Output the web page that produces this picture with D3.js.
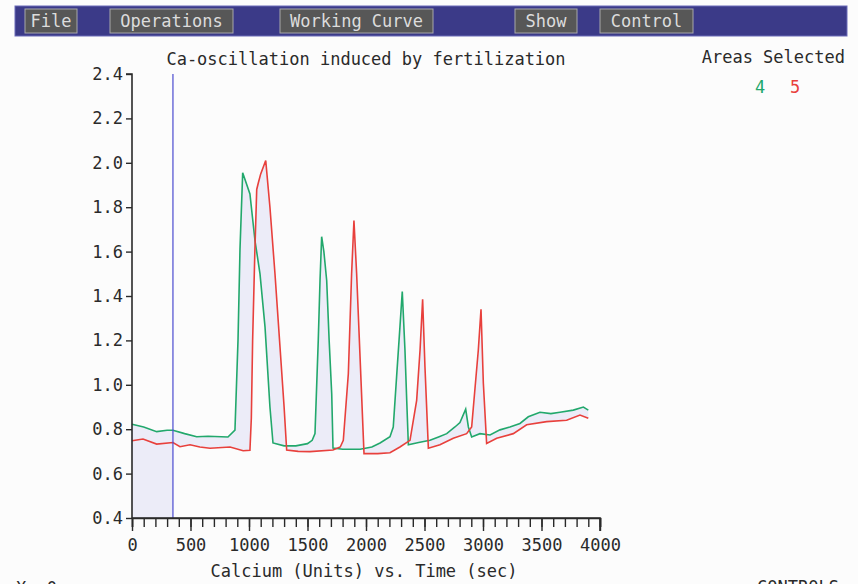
<!DOCTYPE html>
<html>
<head>
<meta charset="utf-8">
<script src="https://cdn.jsdelivr.net/npm/d3@7"></script>
<style>
  body { margin: 0; background: #fcfcfc; }
  svg { display: block; }
  text { font-family: "DejaVu Sans Mono", "Liberation Mono", monospace; }
</style>
</head>
<body>
<script>
// menu
var menuItems = ['File', 'Operations', 'Working Curve', 'Show', 'Control'];
var menuX = [25, 110, 280, 515, 600];
var menuW = [52, 123, 153, 62, 93];

// area 4 (green) - time, value
var greenTimes = [0, 100, 211, 300, 350, 450, 553, 650, 820, 880, 906, 923, 946, 1008, 1051, 1094, 1137, 1179, 1205,
  1300, 1400, 1500, 1540, 1564, 1592, 1607, 1621, 1640, 1664, 1685, 1707, 1718, 1800, 1950, 2050, 2120, 2205, 2233,
  2262, 2290, 2310, 2333, 2348, 2362, 2450, 2547, 2620, 2690, 2760, 2803, 2852, 2875, 2903, 2974, 3060, 3145, 3230,
  3316, 3387, 3487, 3580, 3658, 3772, 3858, 3900];
var greenValues = [0.822, 0.81, 0.789, 0.795, 0.795, 0.78, 0.766, 0.768, 0.765, 0.796, 1.2, 1.61, 1.955, 1.86, 1.65,
  1.50, 1.26, 0.90, 0.738, 0.725, 0.725, 0.735, 0.75, 0.78, 1.20, 1.47, 1.667, 1.6, 1.47, 1.2, 0.96, 0.715, 0.71,
  0.71, 0.72, 0.738, 0.766, 0.81, 1.04, 1.26, 1.42, 1.157, 0.93, 0.73, 0.74, 0.75, 0.765, 0.78, 0.81, 0.83, 0.89,
  0.81, 0.765, 0.78, 0.774, 0.797, 0.81, 0.826, 0.856, 0.876, 0.87, 0.876, 0.886, 0.90, 0.886];

// area 5 (red)
var redTimes = [0, 94, 211, 350, 410, 496, 580, 667, 838, 950, 1008, 1020, 1031, 1050, 1066, 1080, 1100, 1143, 1179,
  1222, 1265, 1300, 1322, 1420, 1521, 1718, 1780, 1806, 1849, 1877, 1897, 1920, 1949, 1983, 2100, 2205, 2290, 2376,
  2433, 2462, 2484, 2504, 2533, 2632, 2746, 2860, 2903, 2960, 2983, 3003, 3031, 3117, 3259, 3373, 3544, 3715, 3829, 3900];
var redValues = [0.748, 0.756, 0.733, 0.74, 0.721, 0.73, 0.72, 0.714, 0.72, 0.703, 0.705, 0.85, 1.20, 1.6, 1.88, 1.91,
  1.95, 2.01, 1.80, 1.50, 1.17, 0.9, 0.706, 0.70, 0.699, 0.706, 0.72, 0.75, 1.05, 1.50, 1.74, 1.50, 1.127, 0.69,
  0.69, 0.694, 0.72, 0.75, 0.93, 1.157, 1.385, 1.08, 0.714, 0.73, 0.759, 0.78, 0.81, 1.157, 1.34, 1.007, 0.736,
  0.759, 0.78, 0.82, 0.834, 0.84, 0.864, 0.849];

var markerTime = 350;
var yTicks = [0.4, 0.6, 0.8, 1.0, 1.2, 1.4, 1.6, 1.8, 2.0, 2.2, 2.4];
var xMajor = [0, 500, 1000, 1500, 2000, 2500, 3000, 3500, 4000];

var green = '#22a86c', red = '#e8403c', blue = '#4a4ad0', fillCol = '#ececf8', ink = '#2a2a2a';

var svg = d3.select('body').append('svg')
  .attr('width', 858)
  .attr('height', 584);

// menu bar
svg.append('rect')
  .attr('x', 15).attr('y', 6)
  .attr('width', 832).attr('height', 30)
  .attr('fill', '#3b3a88')
  .attr('stroke', '#6a6ab8');

menuItems.forEach(function(m, i) {
  svg.append('rect')
    .attr('x', menuX[i]).attr('y', 9)
    .attr('width', menuW[i]).attr('height', 24)
    .attr('fill', '#575757')
    .attr('stroke', '#a8a8a8')
    .attr('stroke-width', 1);
  svg.append('text')
    .attr('x', menuX[i] + menuW[i] / 2)
    .attr('y', 27)
    .attr('text-anchor', 'middle')
    .attr('font-size', 17)
    .attr('fill', '#dcdcdc')
    .text(m);
});

var x = d3.scaleLinear().domain([0, 4000]).range([132, 600]);
var y = d3.scaleLinear().domain([0.4, 2.4]).range([518, 74]);

var line = d3.line()
  .x(function(d) { return x(d[0]); })
  .y(function(d) { return y(d[1]); });

var greenPts = greenTimes.map(function(t, i) { return [t, greenValues[i]]; });
var redPts = redTimes.map(function(t, i) { return [t, redValues[i]]; });

// shaded region between the two areas
var between = greenPts.concat(redPts.slice().reverse());
svg.append('path')
  .attr('d', line(between) + 'Z')
  .attr('fill', fillCol)
  .attr('stroke', 'none');

// shaded region left of the marker, down to the axis
svg.append('clipPath').attr('id', 'leftClip')
  .append('rect')
  .attr('x', x(0)).attr('y', y(2.4))
  .attr('width', x(markerTime) - x(0))
  .attr('height', y(0.4) - y(2.4));

var area = d3.area()
  .x(function(d) { return x(d[0]); })
  .y0(y(0.4))
  .y1(function(d) { return y(d[1]); });

svg.append('path')
  .attr('clip-path', 'url(#leftClip)')
  .attr('d', area(greenPts))
  .attr('fill', fillCol);

// curves
svg.append('path')
  .attr('d', line(greenPts))
  .attr('fill', 'none')
  .attr('stroke', green)
  .attr('stroke-width', 1.6);

svg.append('path')
  .attr('d', line(redPts))
  .attr('fill', 'none')
  .attr('stroke', red)
  .attr('stroke-width', 1.6);

// marker line
svg.append('line')
  .attr('x1', x(markerTime)).attr('x2', x(markerTime))
  .attr('y1', y(2.4)).attr('y2', y(0.4))
  .attr('stroke', blue)
  .attr('stroke-width', 1.2);

// y axis
var yAxis = d3.axisLeft(y)
  .tickValues(yTicks)
  .tickSize(6)
  .tickPadding(3)
  .tickFormat(d3.format('.1f'));

var gy = svg.append('g')
  .attr('transform', 'translate(' + x(0) + ',0)')
  .call(yAxis);

// x axis, minor ticks every 100
var xAxis = d3.axisBottom(x)
  .tickValues(d3.range(0, 4001, 100))
  .tickSize(9)
  .tickFormat('');

var gx = svg.append('g')
  .attr('transform', 'translate(0,' + y(0.4) + ')')
  .call(xAxis);

var gxMaj = svg.append('g')
  .attr('transform', 'translate(0,' + y(0.4) + ')')
  .call(d3.axisBottom(x).tickValues(xMajor).tickSize(13).tickPadding(8).tickFormat(d3.format('d')));

[gy, gx, gxMaj].forEach(function(g) {
  g.selectAll('path.domain').attr('stroke', ink).attr('stroke-width', 1.6);
  g.selectAll('.tick line').attr('stroke', ink).attr('stroke-width', 1.4);
  g.selectAll('text')
    .attr('font-family', '"DejaVu Sans Mono", monospace')
    .attr('font-size', 17)
    .attr('fill', ink);
});
gy.select('path.domain').attr('d', 'M-6,' + y(2.4) + 'H0V' + y(0.4));
gxMaj.select('path.domain').attr('d', 'M' + x(0) + ',0H' + x(4000) + 'V13');

// titles
svg.append('text')
  .attr('x', 366).attr('y', 65)
  .attr('text-anchor', 'middle')
  .attr('font-size', 17)
  .attr('fill', ink)
  .text('Ca-oscillation induced by fertilization');

svg.append('text')
  .attr('x', 364).attr('y', 577)
  .attr('text-anchor', 'middle')
  .attr('font-size', 17)
  .attr('fill', ink)
  .text('Calcium (Units) vs. Time (sec)');

svg.append('text')
  .attr('x', 845).attr('y', 63)
  .attr('text-anchor', 'end')
  .attr('font-size', 17)
  .attr('fill', ink)
  .text('Areas Selected');

svg.append('text')
  .attr('x', 760).attr('y', 93)
  .attr('text-anchor', 'middle')
  .attr('font-size', 17)
  .attr('fill', green)
  .text('4');

svg.append('text')
  .attr('x', 795).attr('y', 93)
  .attr('text-anchor', 'middle')
  .attr('font-size', 17)
  .attr('fill', red)
  .text('5');

// status line, mostly cut off at the bottom
svg.append('text')
  .attr('x', 16).attr('y', 594)
  .attr('font-size', 17)
  .attr('fill', ink)
  .text('X: 0');

svg.append('text')
  .attr('x', 757).attr('y', 593)
  .attr('font-size', 17)
  .attr('fill', ink)
  .text('CONTROLS');
</script>
</body>
</html>
